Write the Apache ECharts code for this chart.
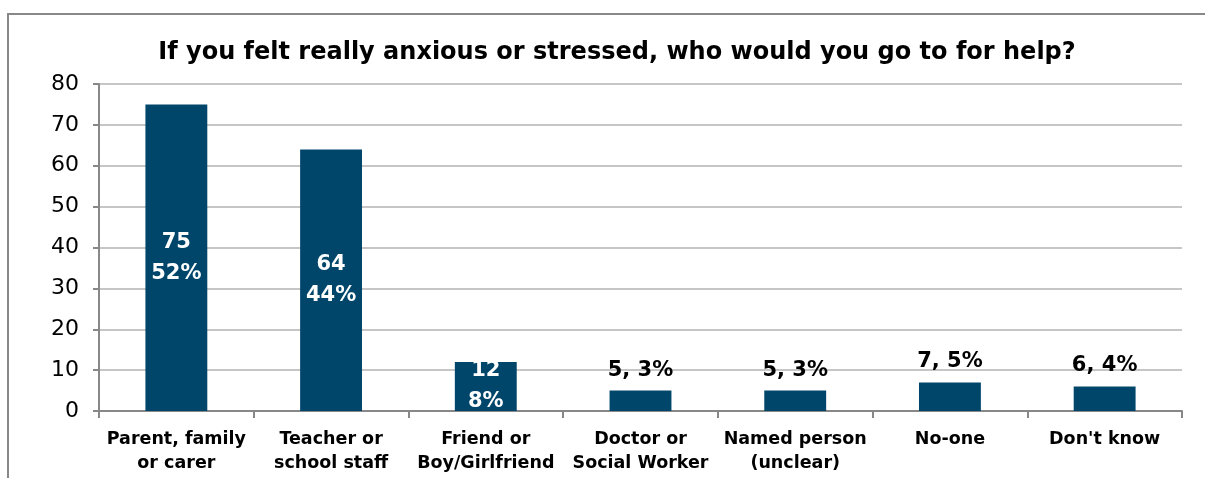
<!DOCTYPE html>
<html>
<head>
<meta charset="utf-8">
<script src="https://cdn.jsdelivr.net/npm/echarts@6/dist/echarts.min.js"></script>
<style>
  html, body { margin: 0; padding: 0; background: #fff; overflow: hidden; }
  #chart { width: 1205px; height: 478px; }
</style>
</head>
<body>
<div id="chart"></div>
<script>
// Survey responses: who young people would turn to when anxious or stressed
const categories = [
  'Parent, family\nor carer',
  'Teacher or\nschool staff',
  'Friend or\nBoy/Girlfriend',
  'Doctor or\nSocial Worker',
  'Named person\n(unclear)',
  'No-one',
  "Don't know"
];
const counts = [75, 64, 12, 5, 5, 7, 6];
const percents = [52, 44, 8, 3, 3, 5, 4];
const yTicks = [0, 10, 20, 30, 40, 50, 60, 70, 80];

const barColor = '#00466b';
const fontFamily = 'Tahoma, "DejaVu Sans", Verdana, sans-serif';

// Tall bars carry their label inside (white, two lines); short bars above (black, one line)
const insideThreshold = 10;
const barData = counts.map((v, i) => {
  const inside = v >= insideThreshold;
  return {
    value: v,
    label: inside ? {
      show: true,
      position: 'inside',
      color: '#ffffff',
      formatter: v + '\n' + percents[i] + '%',
      lineHeight: 31
    } : {
      show: true,
      position: 'top',
      distance: 10,
      color: '#000000',
      formatter: v + ', ' + percents[i] + '%'
    }
  };
});

const chart = echarts.init(document.getElementById('chart'), null, { renderer: 'canvas' });
chart.setOption({
  animation: false,
  backgroundColor: '#ffffff',
  title: {
    text: 'If you felt really anxious or stressed, who would you go to for help?',
    left: 612,
    textAlign: 'center',
    top: 36,
    textStyle: { fontFamily, fontWeight: 'bold', fontSize: 24, color: '#000' }
  },
  // Frame edges: left and top only, running off the page
  graphic: [{
    type: 'polyline',
    shape: { points: [[8, 478], [8, 14], [1205, 14]] },
    style: { fill: null, stroke: '#888888', lineWidth: 2 },
    silent: true
  }],
  grid: { left: 99, right: 23, top: 84, bottom: 67 },
  xAxis: {
    type: 'category',
    data: categories,
    axisLine: { lineStyle: { color: '#888888', width: 2 } },
    axisTick: { show: true, length: 7, lineStyle: { color: '#888888', width: 2 } },
    axisLabel: {
      fontFamily, fontWeight: 'bold', fontSize: 17.5, color: '#000',
      lineHeight: 24, margin: 16, interval: 0
    }
  },
  yAxis: {
    type: 'value',
    min: 0, max: 80, interval: 10,
    axisLine: { show: true, lineStyle: { color: '#888888', width: 2 } },
    axisTick: { show: true, length: 6, lineStyle: { color: '#888888', width: 2 } },
    axisLabel: {
      fontFamily, fontSize: 22, color: '#000', margin: 20,
      formatter: v => (yTicks.includes(v) ? String(v) : '')
    },
    splitLine: { lineStyle: { color: '#c6c6c6', width: 2 } }
  },
  series: [{
    type: 'bar',
    data: barData,
    barWidth: '40%',
    itemStyle: { color: barColor },
    label: { fontFamily, fontWeight: 'bold', fontSize: 21 }
  }]
});
</script>
</body>
</html>
